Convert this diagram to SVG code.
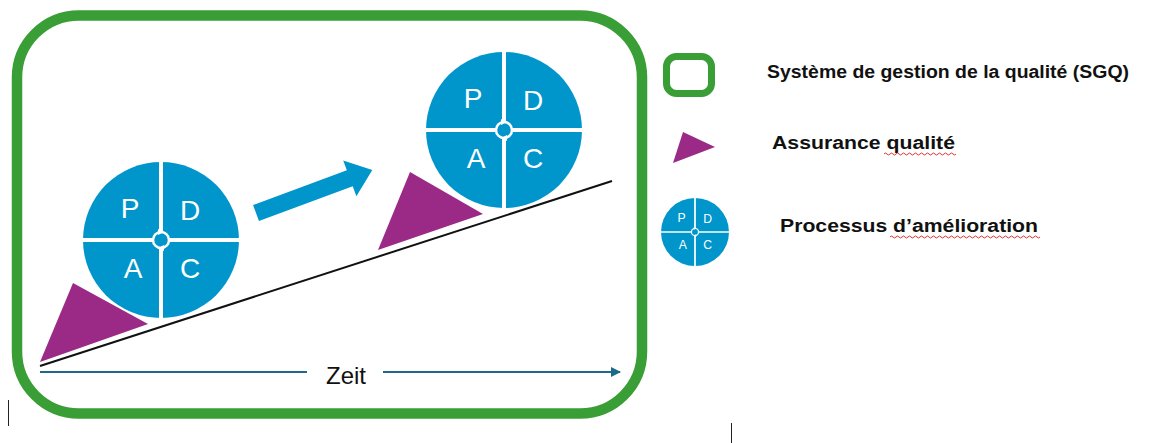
<svg xmlns="http://www.w3.org/2000/svg" xmlns:xlink="http://www.w3.org/1999/xlink" width="1165" height="443" viewBox="0 0 1165 443">
<style>
.green{fill:none;stroke:#3a9e36;}
.tri{fill:#9b2a86;}
.pdca-bg{fill:#0096cb;}
.pdca-l{stroke:#fff;stroke-width:4;}
.pdca-t{font-family:"Liberation Sans",Arial,sans-serif;font-size:28px;fill:#fff;text-anchor:middle;}
.leg{font-family:"Liberation Sans",Arial,sans-serif;font-weight:bold;font-size:18px;fill:#111;}
.squig{fill:none;stroke:#e23030;stroke-width:1;}
.cursor{stroke:#222;stroke-width:1;}
</style>
<defs>
<g id="pdca">
<circle r="78" class="pdca-bg"/>
<line x1="0" y1="-80" x2="0" y2="80" class="pdca-l"/>
<line x1="-80" y1="0" x2="80" y2="0" class="pdca-l"/>
<circle r="8" fill="#0096cb" stroke="#fff" stroke-width="2.5"/>
<path d="M-3,-11 L3,-8 L-3,-5 Z M3,11 L-3,8 L3,5 Z" fill="#fff"/>
<text x="-31" y="-22" class="pdca-t">P</text>
<text x="29" y="-20" class="pdca-t">D</text>
<text x="-28" y="38" class="pdca-t">A</text>
<text x="29" y="38" class="pdca-t">C</text>
</g>
<marker id="ah" viewBox="0 0 10 10" refX="9" refY="5" markerWidth="5" markerHeight="5" orient="auto">
<path d="M0,0 L10,5 L0,10 Z" fill="#1b6a89"/>
</marker>
</defs>

<g id="qms-frame">
<rect x="17" y="15.5" width="625" height="398" rx="62" ry="62" class="green" stroke-width="10.5"/>
</g>

<g id="slope">
<line x1="40" y1="368" x2="612" y2="182" stroke="#fff" stroke-width="5"/>
<line x1="40" y1="366" x2="612" y2="181" stroke="#111" stroke-width="2"/>
</g>

<g id="qa-1">
<polygon points="40,362 73,283 148,324" class="tri"/>
</g>
<g id="qa-2">
<polygon points="378,250 410,172 483,214" class="tri"/>
</g>

<g id="pdca-1">
<use xlink:href="#pdca" href="#pdca" transform="translate(161,240)"/>
</g>
<g id="pdca-2">
<use xlink:href="#pdca" href="#pdca" transform="translate(504,130)"/>
</g>

<g id="connectors">
<polygon points="0,-8.5 100,-8.5 100,-19 124,0 100,19 100,8.5 0,8.5" fill="#0096cb" transform="translate(256,213) rotate(-20.3)"/>
<line x1="40" y1="372" x2="307" y2="372" stroke="#1b6a89" stroke-width="2"/>
<line x1="383" y1="372" x2="620" y2="372" stroke="#1b6a89" stroke-width="2" marker-end="url(#ah)"/>
</g>

<g id="time-label">
<text x="346" y="384" font-family="'Liberation Sans',Arial,sans-serif" font-size="24" fill="#111" text-anchor="middle">Zeit</text>
</g>

<g id="legend-qms">
<rect x="666.5" y="56.5" width="45" height="37" rx="10" class="green" stroke-width="7"/>
<text x="767" y="78" class="leg" textLength="362" lengthAdjust="spacingAndGlyphs">Système de gestion de la qualité (SGQ)</text>
</g>
<g id="legend-qa">
<polygon points="673,163 683,132 715,147" class="tri"/>
<text x="772" y="149" class="leg" textLength="183" lengthAdjust="spacingAndGlyphs">Assurance qualité</text>
<path d="M884,154 q1.5,-2 3,0 t3,0 t3,0 t3,0 t3,0 t3,0 t3,0 t3,0 t3,0 t3,0 t3,0 t3,0 t3,0 t3,0 t3,0 t3,0 t3,0 t3,0 t3,0 t3,0 t3,0 t3,0 t3,0 t3,0" class="squig"/>
</g>
<g id="legend-pdca">
<use xlink:href="#pdca" href="#pdca" transform="translate(695,232) scale(0.436)"/>
<text x="780" y="232" class="leg" textLength="258" lengthAdjust="spacingAndGlyphs">Processus d’amélioration</text>
<path d="M890,237 q1.5,-2 3,0 t3,0 t3,0 t3,0 t3,0 t3,0 t3,0 t3,0 t3,0 t3,0 t3,0 t3,0 t3,0 t3,0 t3,0 t3,0 t3,0 t3,0 t3,0 t3,0 t3,0 t3,0 t3,0 t3,0 t3,0 t3,0 t3,0 t3,0 t3,0 t3,0 t3,0 t3,0 t3,0 t3,0 t3,0 t3,0 t3,0 t3,0 t3,0 t3,0 t3,0 t3,0 t3,0 t3,0 t3,0 t3,0 t3,0 t3,0 t3,0 t3,0" class="squig"/>
</g>

<g id="cursors">
<line x1="8.5" y1="400" x2="8.5" y2="426" class="cursor"/>
<line x1="731.5" y1="423" x2="731.5" y2="443" class="cursor"/>
</g>
</svg>
